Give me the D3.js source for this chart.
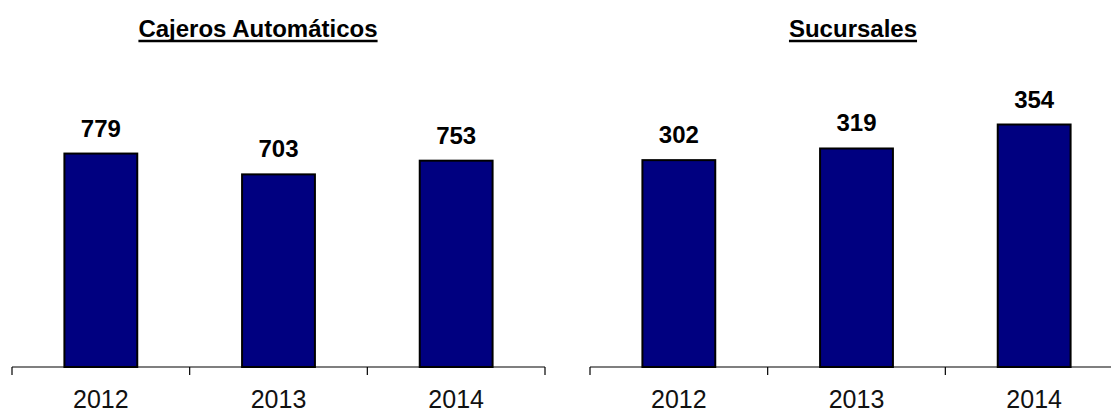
<!DOCTYPE html>
<meta charset="utf-8">
<style>
    body { margin: 0; background: #fff; }
    text { font-family: "Liberation Sans", Arial, sans-serif; fill: #000; }
    .bar { fill: #000080; stroke: #000; stroke-width: 2; }
    .value { font-weight: bold; font-size: 24px; }
    .title { font-weight: bold; font-size: 24px; }
    .axis path, .axis line { stroke: #000; }
    .axis text { font-size: 25px; fill: #111; }
</style>
<body>
<script src="https://cdn.jsdelivr.net/npm/d3@7"></script>
<script>
    var width = 1111
    var height = 414
    var baseY = 367
    var topY = 93

    var years = ['2012', '2013', '2014']
    var cajeros = [779, 703, 753]
    var sucursales = [302, 319, 354]
    var titles = ['Cajeros Automáticos', 'Sucursales']
    var maxValues = [1000, 400]

    var svg = d3.select('body').append('svg')
        .attr('width', width)
        .attr('height', height)

    function panel(values, title, max, x0, x1, titleX) {
        var g = svg.append('g')

        var x = d3.scaleBand()
            .domain(years)
            .range([x0, x1])
            .paddingInner(0.59)
            .paddingOuter(0.295)

        var y = d3.scaleLinear()
            .domain([0, max])
            .range([baseY, topY])

        var data = years.map(function (d, i) { return { year: d, value: values[i] } })

        g.selectAll('.bar')
            .data(data)
            .enter().append('rect')
            .attr('class', 'bar')
            .attr('x', function (d) { return x(d.year) })
            .attr('width', x.bandwidth())
            .attr('y', function (d) { return y(d.value) })
            .attr('height', function (d) { return baseY - y(d.value) })

        g.selectAll('.value')
            .data(data)
            .enter().append('text')
            .attr('class', 'value')
            .attr('text-anchor', 'middle')
            .attr('x', function (d) { return x(d.year) + x.bandwidth() / 2 })
            .attr('y', function (d) { return y(d.value) - 17 })
            .text(function (d) { return d.value })

        // labels
        var axis = g.append('g')
            .attr('class', 'axis')
            .attr('transform', 'translate(0,' + baseY + ')')
            .call(d3.axisBottom(x).tickSize(0).tickPadding(23))
        axis.select('.domain').remove()

        // axis line with ticks at category boundaries
        var step = x.step()
        var bounds = d3.range(years.length + 1).map(function (i) { return x0 + i * step })
        g.append('line')
            .attr('x1', x0).attr('x2', Math.min(x1, width))
            .attr('y1', baseY).attr('y2', baseY)
            .attr('stroke', '#000').attr('stroke-width', 1.2)
        g.selectAll('.tick-b')
            .data(bounds)
            .enter().append('line')
            .attr('class', 'tick-b')
            .attr('x1', function (d) { return d }).attr('x2', function (d) { return d })
            .attr('y1', baseY).attr('y2', baseY + 8)
            .attr('stroke', '#000').attr('stroke-width', 1.2)

        var t = g.append('text')
            .attr('class', 'title')
            .attr('text-anchor', 'middle')
            .attr('x', titleX)
            .attr('y', 37)
            .text(title)
        var w = t.node().getComputedTextLength()
        g.append('line')
            .attr('x1', titleX - w / 2).attr('x2', titleX + w / 2)
            .attr('y1', 41).attr('y2', 41)
            .attr('stroke', '#000').attr('stroke-width', 2.5)
    }

    panel(cajeros, titles[0], maxValues[0], 12, 545, 258)
    panel(sucursales, titles[1], maxValues[1], 590, 1123, 853)
</script>
</body>
